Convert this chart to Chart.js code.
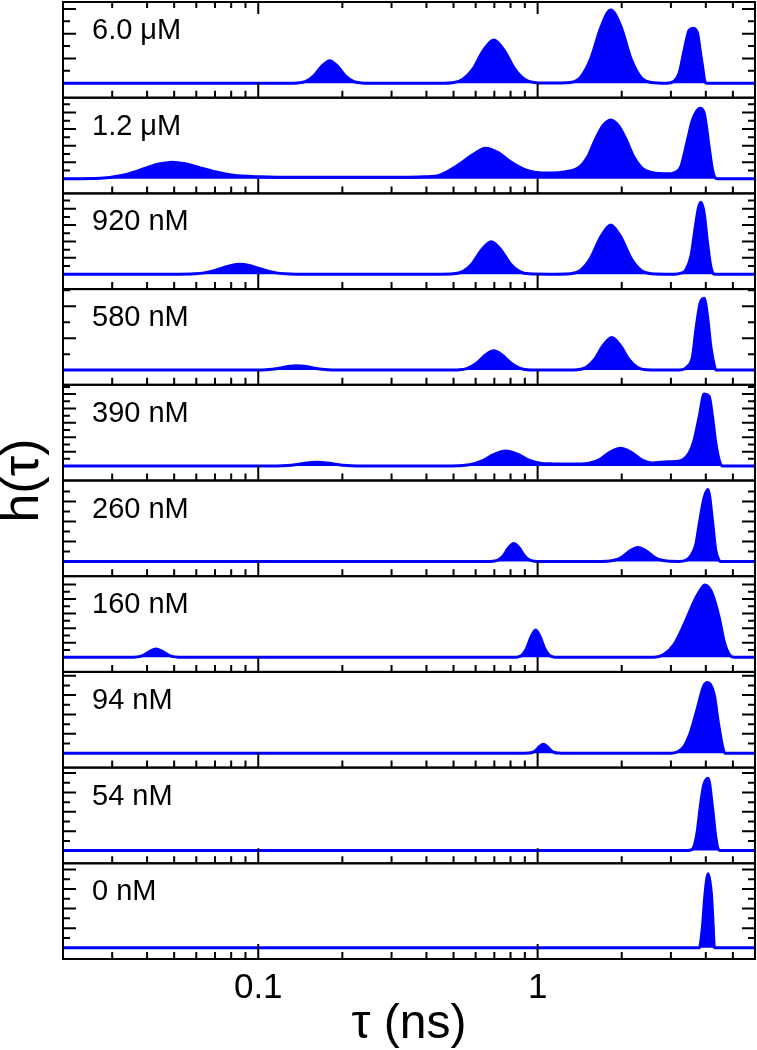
<!DOCTYPE html>
<html>
<head>
<meta charset="utf-8">
<script src="https://cdn.jsdelivr.net/npm/chart.js@4.4.1/dist/chart.umd.min.js"></script>
<style>
  html, body { margin: 0; padding: 0; background: #fff; }
  canvas { display: block; }
</style>
</head>
<body>
<canvas id="lifetimes" width="757" height="1050"></canvas>
<script>
// lifetime distributions h(tau), one panel per concentration (top to bottom)
const panelLabels = ['6.0 μM', '1.2 μM', '920 nM', '580 nM', '390 nM', '260 nM', '160 nM', '94 nM', '54 nM', '0 nM'];

const tau6000 = [0.02, 0.13, 0.138, 0.148, 0.158, 0.169, 0.180, 0.192, 0.205, 0.219, 0.234, 0.25, 0.46, 0.493, 0.537, 0.586, 0.639, 0.697, 0.760, 0.829, 0.904, 0.986, 1.1, 1.2, 1.309, 1.423, 1.546, 1.681, 1.827, 1.986, 2.160, 2.346, 2.550, 2.9, 3.08, 3.21, 3.345, 3.486, 3.603, 3.736, 3.817, 3.894, 3.968, 4.03, 6];
const h6000   = [0, 0, 0.3, 1.8, 7.3, 17.1, 22.6, 17.1, 7.3, 1.8, 0.3, 0, 0, 0.5, 3.4, 14.1, 32.7, 43.3, 32.7, 14.1, 3.4, 0.5, 0.2, 0.3, 0.8, 5.8, 23.8, 55.3, 73.3, 57, 24.5, 5.8, 0.8, 0, 2, 10, 33, 53, 55, 50, 33, 17, 2, 0, 0];

const tau1200 = [0.02, 0.0272, 0.032, 0.0362, 0.0403, 0.0445, 0.0492, 0.0548, 0.062, 0.0701, 0.0813, 0.1017, 0.1414, 0.2137, 0.3228, 0.3903, 0.449, 0.521, 0.585, 0.651, 0.725, 0.800, 0.906, 1.086, 1.260, 1.414, 1.511, 1.601, 1.710, 1.827, 1.951, 2.084, 2.209, 2.359, 2.584, 2.917, 3.080, 3.254, 3.440, 3.585, 3.817, 3.946, 4.111, 4.228, 4.346, 4.456, 6];
const h1200   = [0, 0.5, 3, 7, 11.5, 15, 16.7, 15, 11, 7, 3.5, 2, 1.5, 1.5, 1.5, 2, 4, 14, 24, 30.7, 26, 17, 9, 5.7, 7, 12, 22, 38, 53, 59, 53, 38, 22, 11, 6, 5, 6, 12, 39, 59, 70.7, 66, 32, 9, 0.5, 0, 0];

const tau920 = [0.02, 0.05, 0.0594, 0.064, 0.069, 0.0743, 0.080, 0.0862, 0.0928, 0.1, 0.1077, 0.116, 0.125, 0.1357, 0.45, 0.4985, 0.5392, 0.5832, 0.6308, 0.6823, 0.738, 0.798, 0.863, 0.934, 1.1, 1.309, 1.423, 1.546, 1.681, 1.827, 1.986, 2.160, 2.346, 2.550, 3.1, 3.254, 3.392, 3.535, 3.684, 3.761, 3.840, 3.946, 4.058, 4.170, 4.285, 6];
const h920   = [0, 0, 0.44, 1.35, 3.2, 6.1, 8.8, 10, 8.8, 6.1, 3.2, 1.35, 0.44, 0, 0, 0.36, 2.6, 10.6, 24.6, 32.6, 24.6, 10.6, 2.6, 0.36, 0, 0.5, 3.9, 16, 37.2, 49.3, 37.2, 16, 3.9, 0.5, 0, 1, 4.3, 17.6, 51, 66, 72, 61, 31, 7.6, 0, 0];

const tau580 = [0.02, 0.095, 0.1031, 0.1092, 0.1157, 0.1226, 0.1299, 0.1376, 0.1458, 0.1545, 0.1637, 0.1734, 0.1837, 0.2, 0.48, 0.5179, 0.5578, 0.6008, 0.6471, 0.697, 0.7507, 0.8086, 0.871, 0.938, 1.2, 1.386, 1.488, 1.598, 1.716, 1.842, 1.978, 2.123, 2.280, 2.448, 3.1, 3.300, 3.440, 3.585, 3.684, 3.817, 3.946, 4.058, 4.170, 4.285, 4.346, 6];
const h580   = [0, 0, 0.2, 0.58, 1.4, 2.6, 3.8, 4.3, 3.8, 2.6, 1.4, 0.58, 0.2, 0, 0, 0.2, 1.5, 6.3, 14.6, 19.3, 14.6, 6.3, 1.5, 0.2, 0, 0.36, 2.6, 10.6, 24.6, 32.6, 24.6, 10.6, 2.6, 0.36, 0, 0.5, 3.6, 13.6, 40, 67, 72, 53.6, 23.6, 5.3, 0, 0];

const tau390 = [0.02, 0.105, 0.1167, 0.1267, 0.1376, 0.1494, 0.1623, 0.1763, 0.1914, 0.2079, 0.2258, 0.25, 0.46, 0.5166, 0.5704, 0.6298, 0.6954, 0.7677, 0.8475, 0.9358, 1.033, 1.141, 1.242, 1.403, 1.530, 1.669, 1.819, 1.984, 2.164, 2.359, 2.573, 2.917, 3.1, 3.300, 3.486, 3.633, 3.786, 3.946, 4.111, 4.228, 4.346, 4.466, 4.592, 6];
const h390   = [0, 0, 0.1, 0.5, 1.56, 3.04, 3.8, 3.04, 1.56, 0.5, 0.1, 0, 0, 0.2, 1.2, 4.9, 11.3, 15, 11.8, 5.5, 2.6, 2.1, 2, 2.1, 2.8, 6.5, 14, 17.7, 13.6, 6.2, 3, 4.3, 4.5, 6, 13, 26, 49, 72, 70, 49, 22.7, 6, 0, 0];

const tau260 = [0.02, 0.66, 0.6912, 0.7218, 0.7538, 0.7872, 0.8221, 0.8585, 0.8966, 0.9363, 0.9778, 1.02, 1.7, 1.759, 1.878, 2.006, 2.142, 2.288, 2.444, 2.610, 2.787, 2.977, 3.2, 3.392, 3.535, 3.684, 3.786, 3.946, 4.077, 4.135, 4.228, 4.346, 4.466, 4.528, 6];
const h260   = [0, 0, 0.2, 1.4, 5.8, 13.6, 18, 13.6, 5.8, 1.4, 0.2, 0, 0, 0.15, 1.1, 4.5, 10.6, 14, 10.6, 4.5, 1.1, 0.15, 0, 1, 5.6, 17, 37, 64, 72, 64, 40, 10.6, 1, 0, 0];

const tau160 = [0.02, 0.034, 0.0357, 0.03742, 0.03923, 0.04112, 0.0431, 0.04518, 0.04735, 0.04964, 0.05203, 0.055, 0.82, 0.848, 0.880, 0.913, 0.948, 0.9836, 1.0208, 1.0594, 1.0994, 1.141, 1.18, 2.611, 2.836, 3.080, 3.345, 3.633, 3.799, 3.968, 4.10, 4.228, 4.466, 4.653, 4.850, 5.052, 6];
const h160   = [0, 0, 0.1, 0.66, 2.7, 6.3, 8.3, 6.3, 2.7, 0.66, 0.1, 0, 0, 0.3, 2.2, 8.9, 20.6, 27.3, 20.6, 8.9, 2.2, 0.3, 0, 0, 3, 13, 33, 56, 66, 72.3, 70, 63, 39.7, 16, 3, 0, 0];

const tau94 = [0.02, 0.9, 0.926, 0.955, 0.985, 1.016, 1.048, 1.081, 1.115, 1.150, 1.186, 1.22, 2.997, 3.169, 3.345, 3.535, 3.736, 3.926, 4.058, 4.285, 4.444, 4.592, 4.680, 6];
const h94   = [0, 0, 0.1, 0.7, 2.9, 6.8, 9, 6.8, 2.9, 0.7, 0.1, 0, 0, 1.5, 7, 22, 45.7, 67, 70.7, 59, 29, 7, 0, 0];

const tau54 = [0.02, 3.440, 3.585, 3.715, 3.817, 3.926, 4.077, 4.228, 4.346, 4.444, 4.528, 6];
const h54   = [0, 0, 1.5, 16.5, 43, 65, 72.5, 43, 13, 1, 0, 0];

const tau0 = [0.02, 3.786, 3.817, 3.894, 3.968, 4.077, 4.194, 4.250, 4.285, 4.309, 6];
const h0   = [0, 0, 2, 22, 52, 74, 52, 22, 2, 0, 0];

const panelTau = [tau6000, tau1200, tau920, tau580, tau390, tau260, tau160, tau94, tau54, tau0];
const panelH = [h6000, h1200, h920, h580, h390, h260, h160, h94, h54, h0];

// x ticks (ns) and which of them get a label
const xTicks = [0.03, 0.04, 0.05, 0.06, 0.07, 0.08, 0.09, 0.1, 0.2, 0.3, 0.4, 0.5, 0.6, 0.7, 0.8, 0.9, 1, 2, 3, 4, 5];
const xTickLabels = [0.1, 1];

// per panel y range (lower end) and minor tick step, arbitrary units
const yMin = [-14.5, -14.6, -14.9, -14.7, -14.5, -14.8, -14.6, -14.4, -12.7, -11.3];
const yTickStep = [12.4, 8.3, 8.2, 16, 7.2, 10, 7.3, 9.7, 9.7, 9.8];
const panelSpan = 95.8;

const FONT = '"Liberation Sans", Arial, sans-serif';
const BLUE = '#0000ff';

const datasets = panelLabels.map((lab, i) => ({
  label: lab,
  data: panelTau[i].map((t, j) => ({ x: t, y: panelH[i][j] })),
  yAxisID: 'p' + i,
  borderColor: BLUE,
  backgroundColor: BLUE,
  borderWidth: 3,
  fill: 'origin',
  pointRadius: 0,
  cubicInterpolationMode: 'monotone'
}));

const scales = {
  x: {
    type: 'logarithmic',
    min: 0.02,
    max: 6,
    afterBuildTicks: scale => { scale.ticks = xTicks.map(v => ({ value: v })); },
    grid: { display: false, drawTicks: false },
    border: { display: false },
    ticks: {
      autoSkip: false,
      maxRotation: 0,
      padding: 12,
      color: '#000',
      font: { family: FONT, size: 35, lineHeight: 1 },
      callback: v => xTickLabels.includes(v) ? String(v) : ''
    },
    title: {
      display: true,
      text: 'τ (ns)',
      color: '#000',
      font: { family: FONT, size: 48, lineHeight: 1 },
      padding: { top: -17, bottom: 0 }
    }
  },
  yTitle: {
    type: 'linear',
    position: 'left',
    weight: 100,
    grid: { display: false, drawTicks: false },
    border: { display: false },
    ticks: { display: false },
    title: {
      display: true,
      text: 'h(τ)',
      color: '#000',
      font: { family: FONT, size: 52, lineHeight: 1 },
      padding: { top: -2, bottom: 13 }
    }
  }
};
panelLabels.forEach((lab, i) => {
  scales['p' + i] = {
    type: 'linear',
    position: 'left',
    stack: 'panels',
    stackWeight: 1,
    weight: 50 - i,
    min: yMin[i],
    max: yMin[i] + panelSpan,
    grid: { display: false, drawTicks: false },
    border: { display: false },
    ticks: { display: false }
  };
});

// panel frames, inward ticks and concentration labels
const panelFrame = {
  id: 'panelFrame',
  afterDraw(chart) {
    const ctx = chart.ctx;
    const xs = chart.scales.x;
    const left = chart.chartArea.left, right = chart.chartArea.right;
    ctx.save();
    ctx.strokeStyle = '#000';
    ctx.lineWidth = 2;
    panelLabels.forEach((lab, i) => {
      const ys = chart.scales['p' + i];
      const top = ys.top, bottom = ys.bottom;
      ctx.beginPath();
      xTicks.forEach(v => {
        const px = xs.getPixelForValue(v);
        const major = xTickLabels.includes(v);
        ctx.moveTo(px, bottom);
        ctx.lineTo(px, bottom - (major ? 15 : 7));
        if (i === 0) {
          ctx.moveTo(px, top);
          ctx.lineTo(px, top + (major ? 12 : 6));
        }
      });
      const step = yTickStep[i];
      for (let k = 1; k * step < ys.max - 1; k++) {
        const py = ys.getPixelForValue(k * step);
        const len = k % 2 === 0 ? 13 : 7;
        ctx.moveTo(left, py);
        ctx.lineTo(left + len, py);
        ctx.moveTo(right, py);
        ctx.lineTo(right - len, py);
      }
      ctx.stroke();
      ctx.strokeRect(left, top, right - left, bottom - top);
      ctx.fillStyle = '#000';
      ctx.font = '29px ' + FONT;
      ctx.textAlign = 'left';
      ctx.textBaseline = 'alphabetic';
      ctx.fillText(lab, left + 29, top + 37);
    });
    ctx.restore();
  }
};

new Chart(document.getElementById('lifetimes'), {
  type: 'line',
  data: { datasets },
  options: {
    responsive: false,
    animation: false,
    layout: { padding: { left: 0, right: 2, top: 2, bottom: 1 } },
    plugins: { legend: { display: false }, tooltip: { enabled: false } },
    scales
  },
  plugins: [panelFrame]
});
</script>
</body>
</html>
